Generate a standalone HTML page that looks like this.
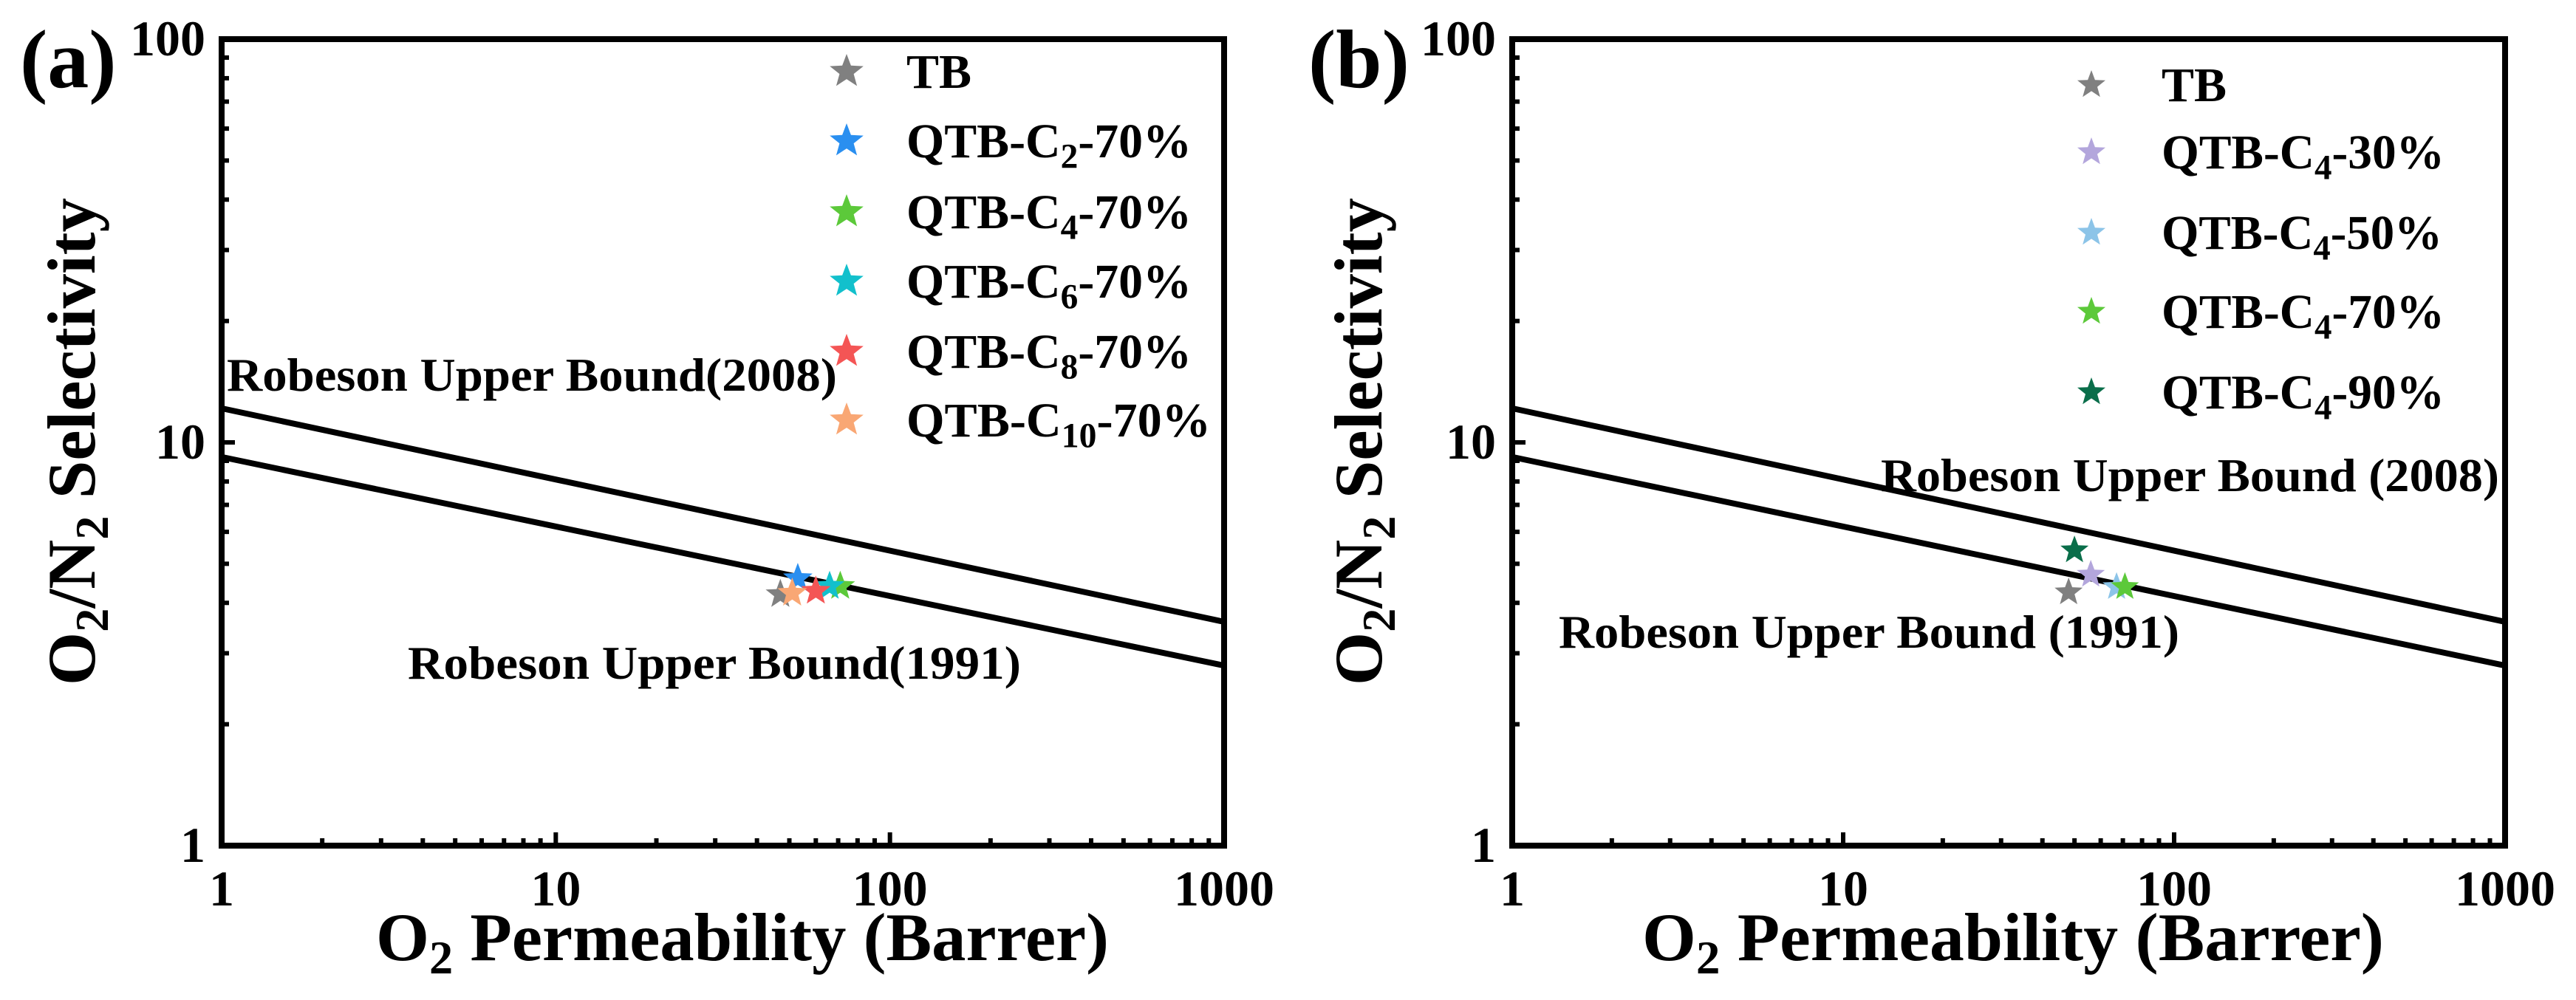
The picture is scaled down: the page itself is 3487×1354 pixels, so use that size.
<!DOCTYPE html>
<html><head><meta charset="utf-8">
<style>
html,body{margin:0;padding:0;background:#fff;}
svg{display:block;}
text{font-family:"Liberation Serif","DejaVu Serif",serif;font-weight:bold;fill:#000;}
</style></head>
<body>
<svg id="fig" width="3487" height="1354" viewBox="0 0 3487 1354" xmlns="http://www.w3.org/2000/svg">
<g id="panelA"></g>
<g id="panelB"></g>
</svg>
<script>
// ---- data ----
const xTickValues = [1, 10, 100, 1000];
const xTickLabels = ["1", "10", "100", "1000"];
const yTickValues = [1, 10, 100];
const yTickLabels = ["1", "10", "100"];

// Robeson upper bounds (O2/N2): selectivity = (k / P)^(1/n)
const boundNames = ["Robeson Upper Bound(2008)", "Robeson Upper Bound(1991)"];
const boundK = [1396000, 389224];
const boundN = [5.666, 5.8];

const seriesA = ["TB", "QTB-C2-70%", "QTB-C4-70%", "QTB-C6-70%", "QTB-C8-70%", "QTB-C10-70%"];
const colorsA = ["#808080", "#2a8ff0", "#5cc93a", "#12c0cc", "#f45555", "#f9a774"];
const permA = [47, 53, 71, 66, 60, 51];
const selA = [4.2, 4.6, 4.4, 4.4, 4.28, 4.23];

const seriesB = ["TB", "QTB-C4-30%", "QTB-C4-50%", "QTB-C4-70%", "QTB-C4-90%"];
const colorsB = ["#808080", "#b3a6dc", "#8cc4e8", "#5cc93a", "#0a6e4a"];
const permB = [48, 56, 67, 71, 50];
const selB = [4.25, 4.7, 4.38, 4.38, 5.4];

// ---- drawing ----
const NS = "http://www.w3.org/2000/svg";
function mk(tag, attrs, parent) {
  const e = document.createElementNS(NS, tag);
  for (const k in attrs) e.setAttribute(k, attrs[k]);
  parent.appendChild(e);
  return e;
}
function starPts(cx, cy, R) {
  const r = R * 0.42, p = [];
  for (let i = 0; i < 10; i++) {
    const a = -Math.PI / 2 + i * Math.PI / 5, rr = i % 2 ? r : R;
    p.push((cx + rr * Math.cos(a)).toFixed(1) + "," + (cy + rr * Math.sin(a)).toFixed(1));
  }
  return p.join(" ");
}
function labelText(g, x, y, size, str, len, anchor) {
  // str may contain subscript after "C" or "O"/"N" handled by markup pieces
  const t = mk("text", {x: x, y: y, "font-size": size}, g);
  if (anchor) t.setAttribute("text-anchor", anchor);
  if (len) { t.setAttribute("textLength", len); t.setAttribute("lengthAdjust", "spacingAndGlyphs"); }
  const m = str.match(/^(QTB-C)(\d+)(-.*)$/);
  if (m) {
    const a = mk("tspan", {}, t); a.textContent = m[1];
    const b = mk("tspan", {"font-size": size * 0.72, dy: size * 0.22}, t); b.textContent = m[2];
    const c = mk("tspan", {dy: -size * 0.22}, t); c.textContent = m[3];
  } else t.textContent = str;
  return t;
}

function drawPanel(g, cfg) {
  const L = cfg.left, R = cfg.right, T = 53, B = 1145;
  const xs = v => L + (Math.log10(v) - 0) / 3 * (R - L);
  const ys = v => B - Math.log10(v) / 2 * (B - T);

  // panel letter
  const pl = mk("text", {x: cfg.letterX, y: 118, "font-size": 112}, g);
  pl.textContent = cfg.letter;
  
  

  // bound lines
  for (let i = 0; i < boundK.length; i++) {
    const s1 = Math.pow(boundK[i] / 1, 1 / boundN[i]);
    const s2 = Math.pow(boundK[i] / 1000, 1 / boundN[i]);
    const ln = mk("line", {x1: xs(1), y1: ys(s1), x2: xs(1000), y2: ys(s2), stroke: "#000", "stroke-width": 8}, g);
    
    
    const lb = cfg.boundLabels[i];
    const tl = mk("text", {x: lb[0], y: lb[1], "font-size": 64, textLength: lb[2], lengthAdjust: "spacingAndGlyphs"}, g);
    tl.textContent = cfg.boundText[i];
    
    
  }

  // ticks
  const tg = mk("g", {stroke: "#000", "stroke-width": 6}, g);
  
  
  for (let d = 0; d < 3; d++) for (let k = 1; k <= 9; k++) {
    const v = Math.pow(10, d) * k, X = xs(v), len = k === 1 ? 18 : 10;
    if (k > 1 || d > 0) mk("line", {x1: X, y1: B, x2: X, y2: B - len}, tg);
  }
  for (let d = 0; d < 2; d++) for (let k = 1; k <= 9; k++) {
    const v = Math.pow(10, d) * k, Y = ys(v), len = k === 1 ? 18 : 10;
    if (k > 1 || d > 0) mk("line", {x1: L, y1: Y, x2: L + len, y2: Y}, tg);
  }

  // frame
  const fr = mk("rect", {x: L, y: T, width: R - L, height: B - T, fill: "none", stroke: "#000", "stroke-width": 8}, g);
  
  

  // tick labels
  xTickValues.forEach((v, i) => {
    const t = mk("text", {x: xs(v), y: 1226, "font-size": 68, "text-anchor": "middle"}, g);
    t.textContent = xTickLabels[i];
    
    
  });
  yTickValues.forEach((v, i) => {
    const t = mk("text", {x: L - 22, y: ys(v) + 22, "font-size": 68, "text-anchor": "end"}, g);
    t.textContent = yTickLabels[i];
    
    
  });

  // axis titles
  const xt = mk("text", {x: cfg.xTitleX, y: 1300, "font-size": 92, textLength: cfg.xTitleLen, lengthAdjust: "spacingAndGlyphs"}, g);
  
  
  mk("tspan", {}, xt).textContent = "O";
  mk("tspan", {"font-size": 64, dy: 18}, xt).textContent = "2";
  mk("tspan", {dy: -18}, xt).textContent = " Permeability (Barrer)";

  const yt = mk("text", {x: 0, y: 0, "font-size": 92, textLength: 660, lengthAdjust: "spacingAndGlyphs",
    transform: "translate(" + cfg.yTitleX + ",928) rotate(-90)"}, g);
  
  
  mk("tspan", {}, yt).textContent = "O";
  mk("tspan", {"font-size": 64, dy: 18}, yt).textContent = "2";
  mk("tspan", {dy: -18}, yt).textContent = "/N";
  mk("tspan", {"font-size": 64, dy: 18}, yt).textContent = "2";
  mk("tspan", {dy: -18}, yt).textContent = " Selectivity";

  // data points
  cfg.names.forEach((n, i) => {
    const s = mk("polygon", {points: starPts(xs(cfg.perm[i]), ys(cfg.sel[i]), cfg.pointR), fill: cfg.colors[i]}, g);
    
    
  });

  // legend
  cfg.names.forEach((n, i) => {
    const y = cfg.legY[i];
    const s = mk("polygon", {points: starPts(cfg.legStarX, y, cfg.legR), fill: cfg.colors[i]}, g);
    
    
    const t = labelText(g, cfg.legTextX, y + 22, 66, n, n === "TB" ? null : cfg.legLen[i]);
    
    
  });
}

drawPanel(document.getElementById("panelA"), {
  left: 300, right: 1657, letter: "(a)", letterX: 27,
  boundText: boundNames,
  boundLabels: [[307, 529, 826], [552, 919, 830]],
  xTitleX: 509, xTitleLen: 992, yTitleX: 128,
  names: seriesA, colors: colorsA, perm: permA, sel: selA, pointR: 21,
  legStarX: 1146, legTextX: 1227, legR: 24,
  legY: [97, 191, 287, 381, 476, 569],
  legLen: [0, 386, 386, 386, 386, 412]
});
drawPanel(document.getElementById("panelB"), {
  left: 2047, right: 3391, letter: "(b)", letterX: 1771,
  boundText: ["Robeson Upper Bound (2008)", "Robeson Upper Bound (1991)"],
  boundLabels: [[2546, 665, 837], [2110, 877, 840]],
  xTitleX: 2223, xTitleLen: 1004, yTitleX: 1870,
  names: seriesB, colors: colorsB, perm: permB, sel: selB, pointR: 20,
  legStarX: 2831, legTextX: 2926, legR: 20,
  legY: [115, 206, 315, 422, 531],
  legLen: [0, 383, 380, 383, 383]
});
</script>
</body></html>
